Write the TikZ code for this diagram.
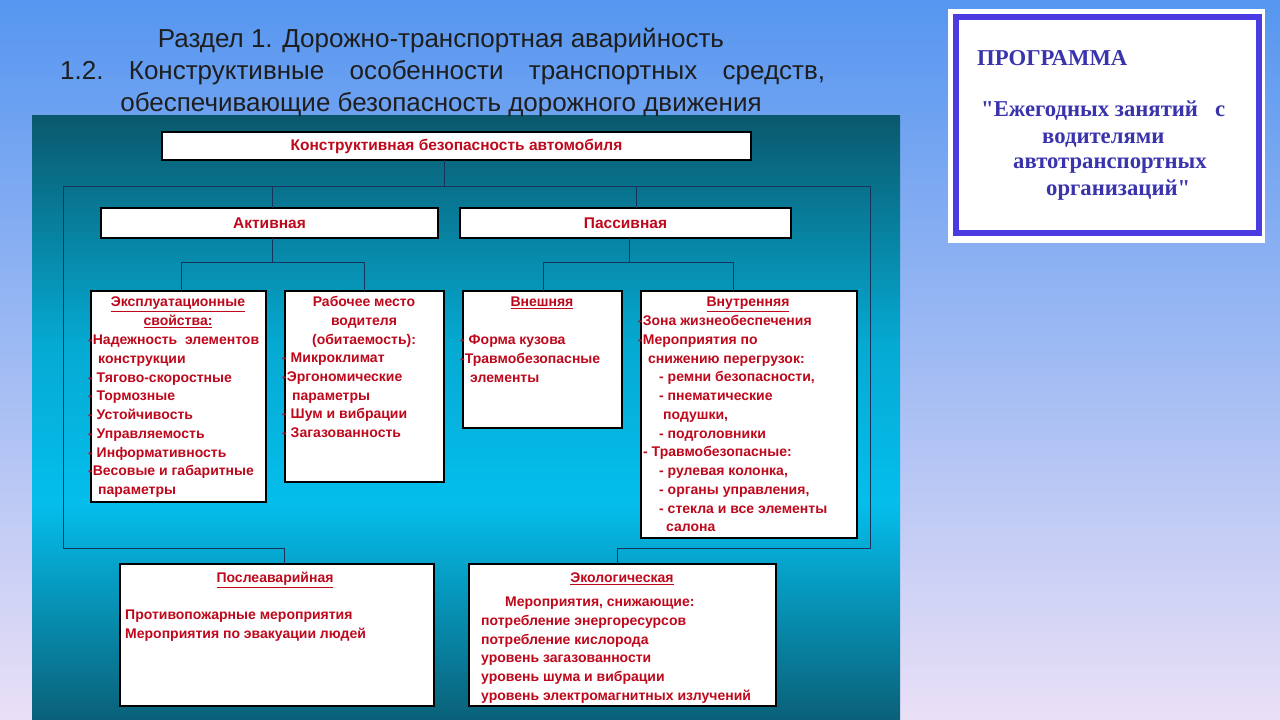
\documentclass[tikz,border=0pt]{standalone}
\usepackage{fontspec}
\setmainfont{Liberation Sans}
\newfontfamily\progfont{Liberation Serif}
\definecolor{bgtop}{RGB}{86,150,240}
\definecolor{bgbot}{RGB}{234,224,246}
\definecolor{ptop}{RGB}{10,88,108}
\definecolor{pmid}{RGB}{4,190,236}
\definecolor{pbot}{RGB}{10,96,120}
\definecolor{redtxt}{RGB}{190,8,28}
\definecolor{connc}{RGB}{22,52,92}
\definecolor{progblue}{RGB}{74,60,226}
\definecolor{progtxt}{RGB}{58,52,172}
\definecolor{titletxt}{RGB}{30,30,30}
\pgfdeclareverticalshading{panelshade}{100bp}{color(0bp)=(pbot); color(25bp)=(pbot); color(43bp)=(pmid); color(56bp)=(pmid!80!ptop); color(75bp)=(ptop); color(100bp)=(ptop)}
\begin{document}
\begin{tikzpicture}[x=1pt,y=-1pt,
  box/.style={draw=black, line width=2.4pt, fill=white, inner sep=0pt, outer sep=0pt},
  conn/.style={draw=connc, line width=0.9pt},
  boxtitle/.style={text=redtxt, font=\bfseries\fontsize{15.5}{18}\selectfont},
  btxt/.style={text=redtxt, font=\bfseries\fontsize{14}{18.75}\selectfont, inner sep=0pt, align=left, anchor=base west},
  bhead/.style={text=redtxt, font=\bfseries\fontsize{14}{18.75}\selectfont, inner sep=0pt, align=center, anchor=base},
  ttl/.style={text=titletxt, font=\fontsize{26}{32}\selectfont, inner sep=0pt, anchor=base},
  prog/.style={text=progtxt, font=\progfont\bfseries\fontsize{22.7}{26}\selectfont, inner sep=0pt, anchor=base west}]
\useasboundingbox (0,0) rectangle (1280,720);
% slide background
\shade[top color=bgtop, bottom color=bgbot] (0,0) rectangle (1280,720);
% dark panel
\shade[shading=panelshade] (32,115) rectangle (900,720);

% title
\node[ttl] (t1) at (441,47) {Раздел 1. Дорожно-транспортная аварийность};
\node[ttl, anchor=base west] (t2) at (60,79) {\makebox[765pt][s]{1.2.\hfill Конструктивные\hfill особенности\hfill транспортных\hfill средств,}};
\node[ttl] (t3) at (441,111) {обеспечивающие безопасность дорожного движения};

% program box
\fill[white] (948,9) rectangle (1265,243);
\node[draw=progblue, line width=6pt, fill=white, minimum width=303pt, minimum height=216pt, inner sep=0pt, outer sep=0pt, anchor=north west] (progbox) at (956,17) {};
\node[prog] (p1) at (977,65) {ПРОГРАММА};
\node[prog] (p2) at (981,116) {"Ежегодных занятий\ \ \ с};
\node[prog] (p3) at (1042,143) {водителями};
\node[prog] (p4) at (1013,168) {автотранспортных};
\node[prog] (p5) at (1046,195) {организаций"};

% boxes
\node[box, minimum width=589pt, minimum height=28pt, boxtitle] (top) at (456.5,146) {Конструктивная безопасность автомобиля};
\node[box, minimum width=337pt, minimum height=30pt, boxtitle] (act) at (269.5,223) {Активная};
\node[box, minimum width=331pt, minimum height=30pt, boxtitle] (pas) at (625.5,223) {Пассивная};
\node[box, minimum width=175pt, minimum height=211pt, anchor=north west] (expl) at (91,291) {};
\node[box, minimum width=159pt, minimum height=191pt, anchor=north west] (rab) at (285,291) {};
\node[box, minimum width=159pt, minimum height=137pt, anchor=north west] (vnesh) at (463,291) {};
\node[box, minimum width=216pt, minimum height=247pt, anchor=north west] (vnutr) at (641,291) {};
\node[box, minimum width=314pt, minimum height=142pt, anchor=north west] (posle) at (120,564) {};
\node[box, minimum width=307pt, minimum height=142pt, anchor=north west] (eco) at (469,564) {};

% connectors
\coordinate (busL) at (63,186);
\coordinate (busR) at (870,186);
\coordinate (bT) at (444,186);
\coordinate (bA) at (272,186);
\coordinate (bP) at (636,186);
\draw[conn] (top.south -| bT) -- (bT);
\draw[conn] (busL) -- (busR);
\draw[conn] (bA) -- (act.north -| bA);
\draw[conn] (bP) -- (pas.north -| bP);
\coordinate (jA) at (272,262);
\coordinate (jA1) at (181,262);
\coordinate (jA2) at (364,262);
\draw[conn] (act.south -| jA) -- (jA);
\draw[conn] (expl.north -| jA1) -- (jA1) -- (jA2) -- (rab.north -| jA2);
\coordinate (jP) at (629,262);
\coordinate (jP1) at (543,262);
\coordinate (jP2) at (733,262);
\draw[conn] (pas.south -| jP) -- (jP);
\draw[conn] (vnesh.north -| jP1) -- (jP1) -- (jP2) -- (vnutr.north -| jP2);
\coordinate (lb) at (63,548);
\coordinate (lb2) at (284,548);
\draw[conn] (busL) -- (lb) -- (lb2) -- (posle.north -| lb2);
\coordinate (rb) at (870,548);
\coordinate (rb2) at (617,548);
\draw[conn] (busR) -- (rb) -- (rb2) -- (eco.north -| rb2);

% box texts (base anchor = baseline of the last line)
\node[bhead] (explh) at (178,325.25) {\underline{Эксплуатационные}\\\underline{свойства:}};
\node[btxt] (explb) at (88,494.5) {-Надежность\ \ элементов\\\hspace*{10pt}конструкции\\- Тягово-скоростные\\- Тормозные\\- Устойчивость\\- Управляемость\\- Информативность\\-Весовые и габаритные\\\hspace*{10pt}параметры};
\node[bhead] (rabh) at (364,344) {Рабочее место\\водителя\\(обитаемость):};
\node[btxt] (rabb) at (282,437.5) {- Микроклимат\\-Эргономические\\\hspace*{10pt}параметры\\- Шум и вибрации\\- Загазованность};
\node[bhead] (vneshh) at (542,306.5) {\underline{Внешняя}};
\node[btxt] (vneshb) at (460,382) {- Форма кузова\\-Травмобезопасные\\\hspace*{10pt}элементы};
\node[bhead] (vnutrh) at (748,306.5) {\underline{Внутренняя}};
\node[btxt] (vnutrb) at (638,531.75) {-Зона жизнеобеспечения\\-Мероприятия по\\\hspace*{10pt}снижению перегрузок:\\\hspace*{21pt}- ремни безопасности,\\\hspace*{21pt}- пнематические\\\hspace*{25pt}подушки,\\\hspace*{21pt}- подголовники\\\hspace*{5pt}- Травмобезопасные:\\\hspace*{21pt}- рулевая колонка,\\\hspace*{21pt}- органы управления,\\\hspace*{21pt}- стекла и все элементы\\\hspace*{28pt}салона};
\node[bhead] (posleh) at (275,582.5) {\underline{Послеаварийная}};
\node[btxt] (posleb) at (125,638.25) {Противопожарные мероприятия\\Мероприятия по эвакуации людей};
\node[bhead] (ecoh) at (622,582.5) {\underline{Экологическая}};
\node[btxt] (ecob) at (481,700.25) {\hspace*{24pt}Мероприятия, снижающие:\\потребление энергоресурсов\\потребление кислорода\\уровень загазованности\\уровень шума и вибрации\\уровень электромагнитных излучений};
\end{tikzpicture}
\end{document}
